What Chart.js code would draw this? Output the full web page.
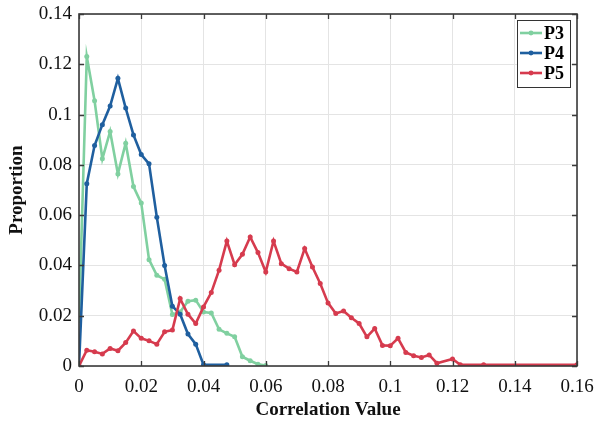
<!DOCTYPE html>
<html>
<head>
<meta charset="utf-8">
<title>Proportion vs Correlation Value</title>
<script src="https://cdn.jsdelivr.net/npm/chart.js@4.4.1/dist/chart.umd.min.js"></script>
<style>
  html, body { margin: 0; padding: 0; background: #fff; }
  canvas { display: block; }
</style>
</head>
<body>
<canvas id="chart" width="597" height="423"></canvas>
<script>
// values
const xTicks = [0, 0.02, 0.04, 0.06, 0.08, 0.1, 0.12, 0.14, 0.16];
const yTicks = [0, 0.02, 0.04, 0.06, 0.08, 0.1, 0.12, 0.14];
const seriesNames = ['P3', 'P4', 'P5'];

const p3X = [0, 0.0025, 0.005, 0.0075, 0.01, 0.0125, 0.015, 0.0175, 0.02, 0.0225, 0.025, 0.0275,
  0.03, 0.0325, 0.035, 0.0375, 0.04, 0.0425, 0.045, 0.0475, 0.05, 0.0525, 0.055, 0.0575, 0.06];
const p3Y = [0.018, 0.1231, 0.1055, 0.0824, 0.0933, 0.0764, 0.0886, 0.0714, 0.0648, 0.0423, 0.0361, 0.0345,
  0.0205, 0.0215, 0.0258, 0.0262, 0.0215, 0.0211, 0.0146, 0.013, 0.0116, 0.0037, 0.0021, 0.0007, 0.0002];

const p4X = [0, 0.0025, 0.005, 0.0075, 0.01, 0.0125, 0.015, 0.0175, 0.02, 0.0225, 0.025, 0.0275,
  0.03, 0.0325, 0.035, 0.0375, 0.04, 0.0475];
const p4Y = [0, 0.0725, 0.0877, 0.096, 0.1034, 0.1144, 0.1026, 0.0919, 0.0841, 0.0804, 0.0592, 0.040,
  0.0238, 0.0206, 0.0127, 0.0087, 0.0005, 0.0005];

const p5X = [0, 0.0025, 0.005, 0.0075, 0.01, 0.0125, 0.015, 0.0175, 0.02, 0.0225, 0.025, 0.0275,
  0.03, 0.0325, 0.035, 0.0375, 0.04, 0.0425, 0.045, 0.0475, 0.05, 0.0525, 0.055, 0.0575,
  0.06, 0.0625, 0.065, 0.0675, 0.07, 0.0725, 0.075, 0.0775, 0.08, 0.0825, 0.085, 0.0875,
  0.09, 0.0925, 0.095, 0.0975, 0.1, 0.1025, 0.105, 0.1075, 0.11, 0.1125, 0.115, 0.12,
  0.1225, 0.13, 0.16];
const p5Y = [0, 0.0063, 0.0057, 0.0048, 0.007, 0.0061, 0.0093, 0.0139, 0.011, 0.01, 0.0087, 0.0136,
  0.0143, 0.0268, 0.0206, 0.0169, 0.0235, 0.0292, 0.0381, 0.0497, 0.0403, 0.0444, 0.0513, 0.0451,
  0.0374, 0.0497, 0.0407, 0.0387, 0.0374, 0.0467, 0.0394, 0.0328, 0.0251, 0.0209, 0.0219, 0.0192,
  0.0169, 0.0116, 0.0149, 0.0082, 0.0081, 0.011, 0.0054, 0.0041, 0.0034, 0.0044, 0.0011, 0.0028,
  0.0005, 0.0005, 0.0005];

const colors = ['#80d0a0', '#1f5f9f', '#d63b4e'];

function toPoints(xs, ys) {
  return xs.map((x, i) => ({ x: x, y: ys[i] }));
}

function makeSet(idx, xs, ys) {
  return {
    label: seriesNames[idx],
    data: toPoints(xs, ys),
    borderColor: colors[idx],
    backgroundColor: colors[idx],
    borderWidth: 2.6,
    pointRadius: 2.5,
    pointBorderWidth: 0,
    tension: 0,
    order: 2 - idx
  };
}

const fmt = v => String(Number(v.toFixed(2)));

// box, inward ticks and boxed legend like the original figure
const boxPlugin = {
  id: 'boxPlugin',
  afterDraw(chart) {
    const ctx = chart.ctx;
    const a = chart.chartArea;
    const xs = chart.scales.x;
    const ys = chart.scales.y;
    ctx.save();
    ctx.strokeStyle = '#3a3a3a';
    ctx.lineWidth = 1.3;
    ctx.beginPath();
    xTicks.forEach(t => {
      const px = Math.round(xs.getPixelForValue(t)) + 0.5;
      ctx.moveTo(px, a.bottom); ctx.lineTo(px, a.bottom - 5);
      ctx.moveTo(px, a.top); ctx.lineTo(px, a.top + 5);
    });
    yTicks.forEach(t => {
      const py = Math.round(ys.getPixelForValue(t)) + 0.5;
      ctx.moveTo(a.left, py); ctx.lineTo(a.left + 5, py);
      ctx.moveTo(a.right, py); ctx.lineTo(a.right - 5, py);
    });
    ctx.stroke();
    ctx.lineWidth = 1.6;
    ctx.strokeRect(a.left, a.top, a.right - a.left, a.bottom - a.top);

    // legend
    const lx = 517, ly = 20, lw = 53, lh = 67;
    ctx.fillStyle = '#fff';
    ctx.fillRect(lx, ly, lw, lh);
    ctx.strokeStyle = '#333';
    ctx.lineWidth = 1;
    ctx.strokeRect(lx + 0.5, ly + 0.5, lw, lh);
    ctx.font = 'bold 18px "Liberation Serif"';
    ctx.textBaseline = 'middle';
    seriesNames.forEach((name, i) => {
      const cy = ly + 13 + i * 20;
      ctx.strokeStyle = colors[i];
      ctx.lineWidth = 2.6;
      ctx.beginPath();
      ctx.moveTo(lx + 3, cy); ctx.lineTo(lx + 25, cy);
      ctx.stroke();
      ctx.fillStyle = colors[i];
      ctx.beginPath();
      ctx.arc(lx + 14, cy, 2.4, 0, Math.PI * 2);
      ctx.fill();
      ctx.fillStyle = '#000';
      ctx.fillText(name, lx + 27, cy + 1);
    });
    ctx.restore();
  }
};

new Chart(document.getElementById('chart').getContext('2d'), {
  type: 'line',
  data: {
    datasets: [makeSet(0, p3X, p3Y), makeSet(1, p4X, p4Y), makeSet(2, p5X, p5Y)]
  },
  options: {
    responsive: false,
    animation: false,
    layout: { padding: { top: 14, right: 20, left: 0, bottom: 0 } },
    plugins: {
      legend: { display: false },
      tooltip: { enabled: false }
    },
    scales: {
      x: {
        type: 'linear',
        min: 0,
        max: 0.16,
        afterFit: s => { s.height = 57; s.paddingLeft = 0; s.paddingRight = 0; },
        afterBuildTicks: s => { s.ticks = xTicks.map(v => ({ value: v })); },
        grid: { color: '#e4e4e4', lineWidth: 1, drawTicks: false },
        border: { display: false },
        ticks: {
          callback: fmt,
          color: '#111',
          padding: 10,
          maxRotation: 0,
          font: { family: '"Liberation Serif"', size: 19 }
        },
        title: {
          display: true,
          text: 'Correlation Value',
          color: '#111',
          padding: { top: 0, bottom: 2 },
          font: { family: '"Liberation Serif"', size: 19, weight: 'bold' }
        }
      },
      y: {
        type: 'linear',
        min: 0,
        max: 0.14,
        afterFit: s => { s.width = 79; s.paddingTop = 0; s.paddingBottom = 0; },
        afterBuildTicks: s => { s.ticks = yTicks.map(v => ({ value: v })); },
        grid: { color: '#e4e4e4', lineWidth: 1, drawTicks: false },
        border: { display: false },
        ticks: {
          callback: fmt,
          color: '#111',
          padding: 7,
          font: { family: '"Liberation Serif"', size: 19 }
        },
        title: {
          display: true,
          text: 'Proportion',
          color: '#111',
          padding: { top: 6, bottom: 0 },
          font: { family: '"Liberation Serif"', size: 19, weight: 'bold' }
        }
      }
    }
  },
  plugins: [boxPlugin]
});
</script>
</body>
</html>
